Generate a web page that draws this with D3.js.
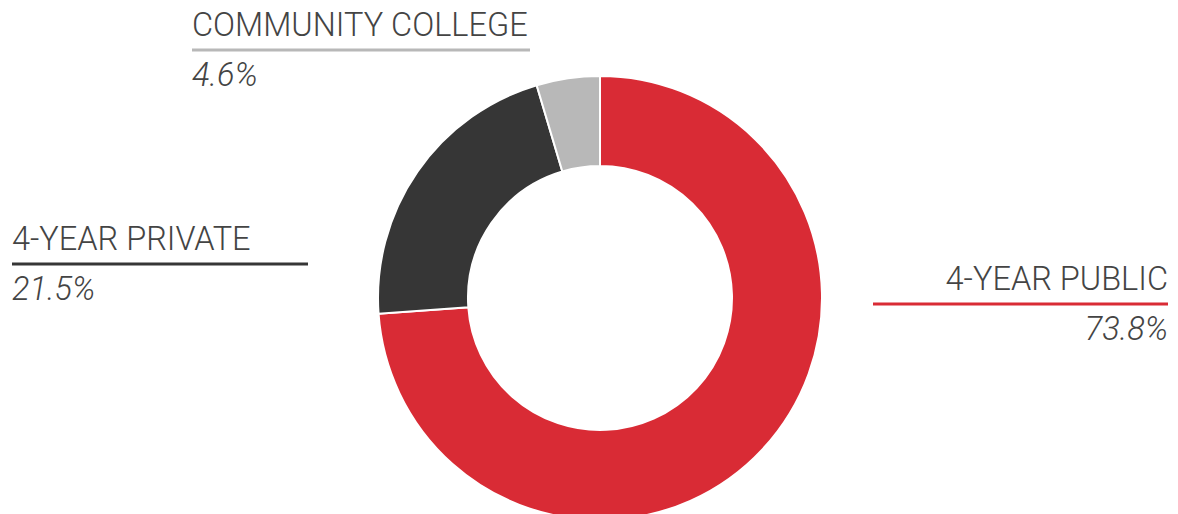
<!DOCTYPE html>
<html>
<head>
<meta charset="utf-8">
<script src="https://cdn.jsdelivr.net/npm/d3@7"></script>
<style>
  body { margin: 0; background: #fff; }
  svg text { font-family: Roboto, "Noto Sans", sans-serif; font-weight: 300; fill: #444; }
</style>
</head>
<body>
<div id="chart"></div>
<script>
const categories = ["4-YEAR PUBLIC", "4-YEAR PRIVATE", "COMMUNITY COLLEGE"];
const values = [73.8, 21.5, 4.6];
const colors = ["#d92b35", "#363636", "#b8b8b8"];
const valueLabels = ["73.8%", "21.5%", "4.6%"];

const width = 1178;
const height = 514;

const svg = d3
  .select("#chart")
  .append("svg")
  .attr("width", width)
  .attr("height", height)
  .attr("viewBox", [0, 0, width, height]);

const data = categories.map((c, i) => ({ name: c, value: values[i], color: colors[i], label: valueLabels[i] }));

const pie = d3.pie().value((d) => d.value).sort(null);
const arc = d3.arc().innerRadius(132).outerRadius(222);

const g = svg.append("g").attr("transform", "translate(600, 298)");

g.selectAll("path")
  .data(pie(data))
  .enter()
  .append("path")
  .attr("d", arc)
  .style("fill", (d) => d.data.color)
  .style("stroke", "#fff")
  .style("stroke-width", 2);

// label blocks: x, anchor, baseline y, line extent
const labelPos = [
  { x: 1168, anchor: "end", y: 290, x1: 873, x2: 1168 },
  { x: 12, anchor: "start", y: 250, x1: 12, x2: 308 },
  { x: 192, anchor: "start", y: 36, x1: 192, x2: 530 },
];

const labels = svg
  .selectAll(".label")
  .data(data)
  .enter()
  .append("g")
  .attr("class", "label");

labels
  .append("text")
  .attr("x", (d, i) => labelPos[i].x)
  .attr("y", (d, i) => labelPos[i].y)
  .attr("text-anchor", (d, i) => labelPos[i].anchor)
  .style("font-size", "32.5px")
  .text((d) => d.name);

labels
  .append("line")
  .attr("x1", (d, i) => labelPos[i].x1)
  .attr("x2", (d, i) => labelPos[i].x2)
  .attr("y1", (d, i) => labelPos[i].y + 14)
  .attr("y2", (d, i) => labelPos[i].y + 14)
  .style("stroke", (d) => d.color)
  .style("stroke-width", 3);

labels
  .append("text")
  .attr("x", (d, i) => labelPos[i].x)
  .attr("y", (d, i) => labelPos[i].y + 50)
  .attr("text-anchor", (d, i) => labelPos[i].anchor)
  .style("font-size", "32.5px")
  .style("font-style", "italic")
  .text((d) => d.label);
</script>
</body>
</html>
